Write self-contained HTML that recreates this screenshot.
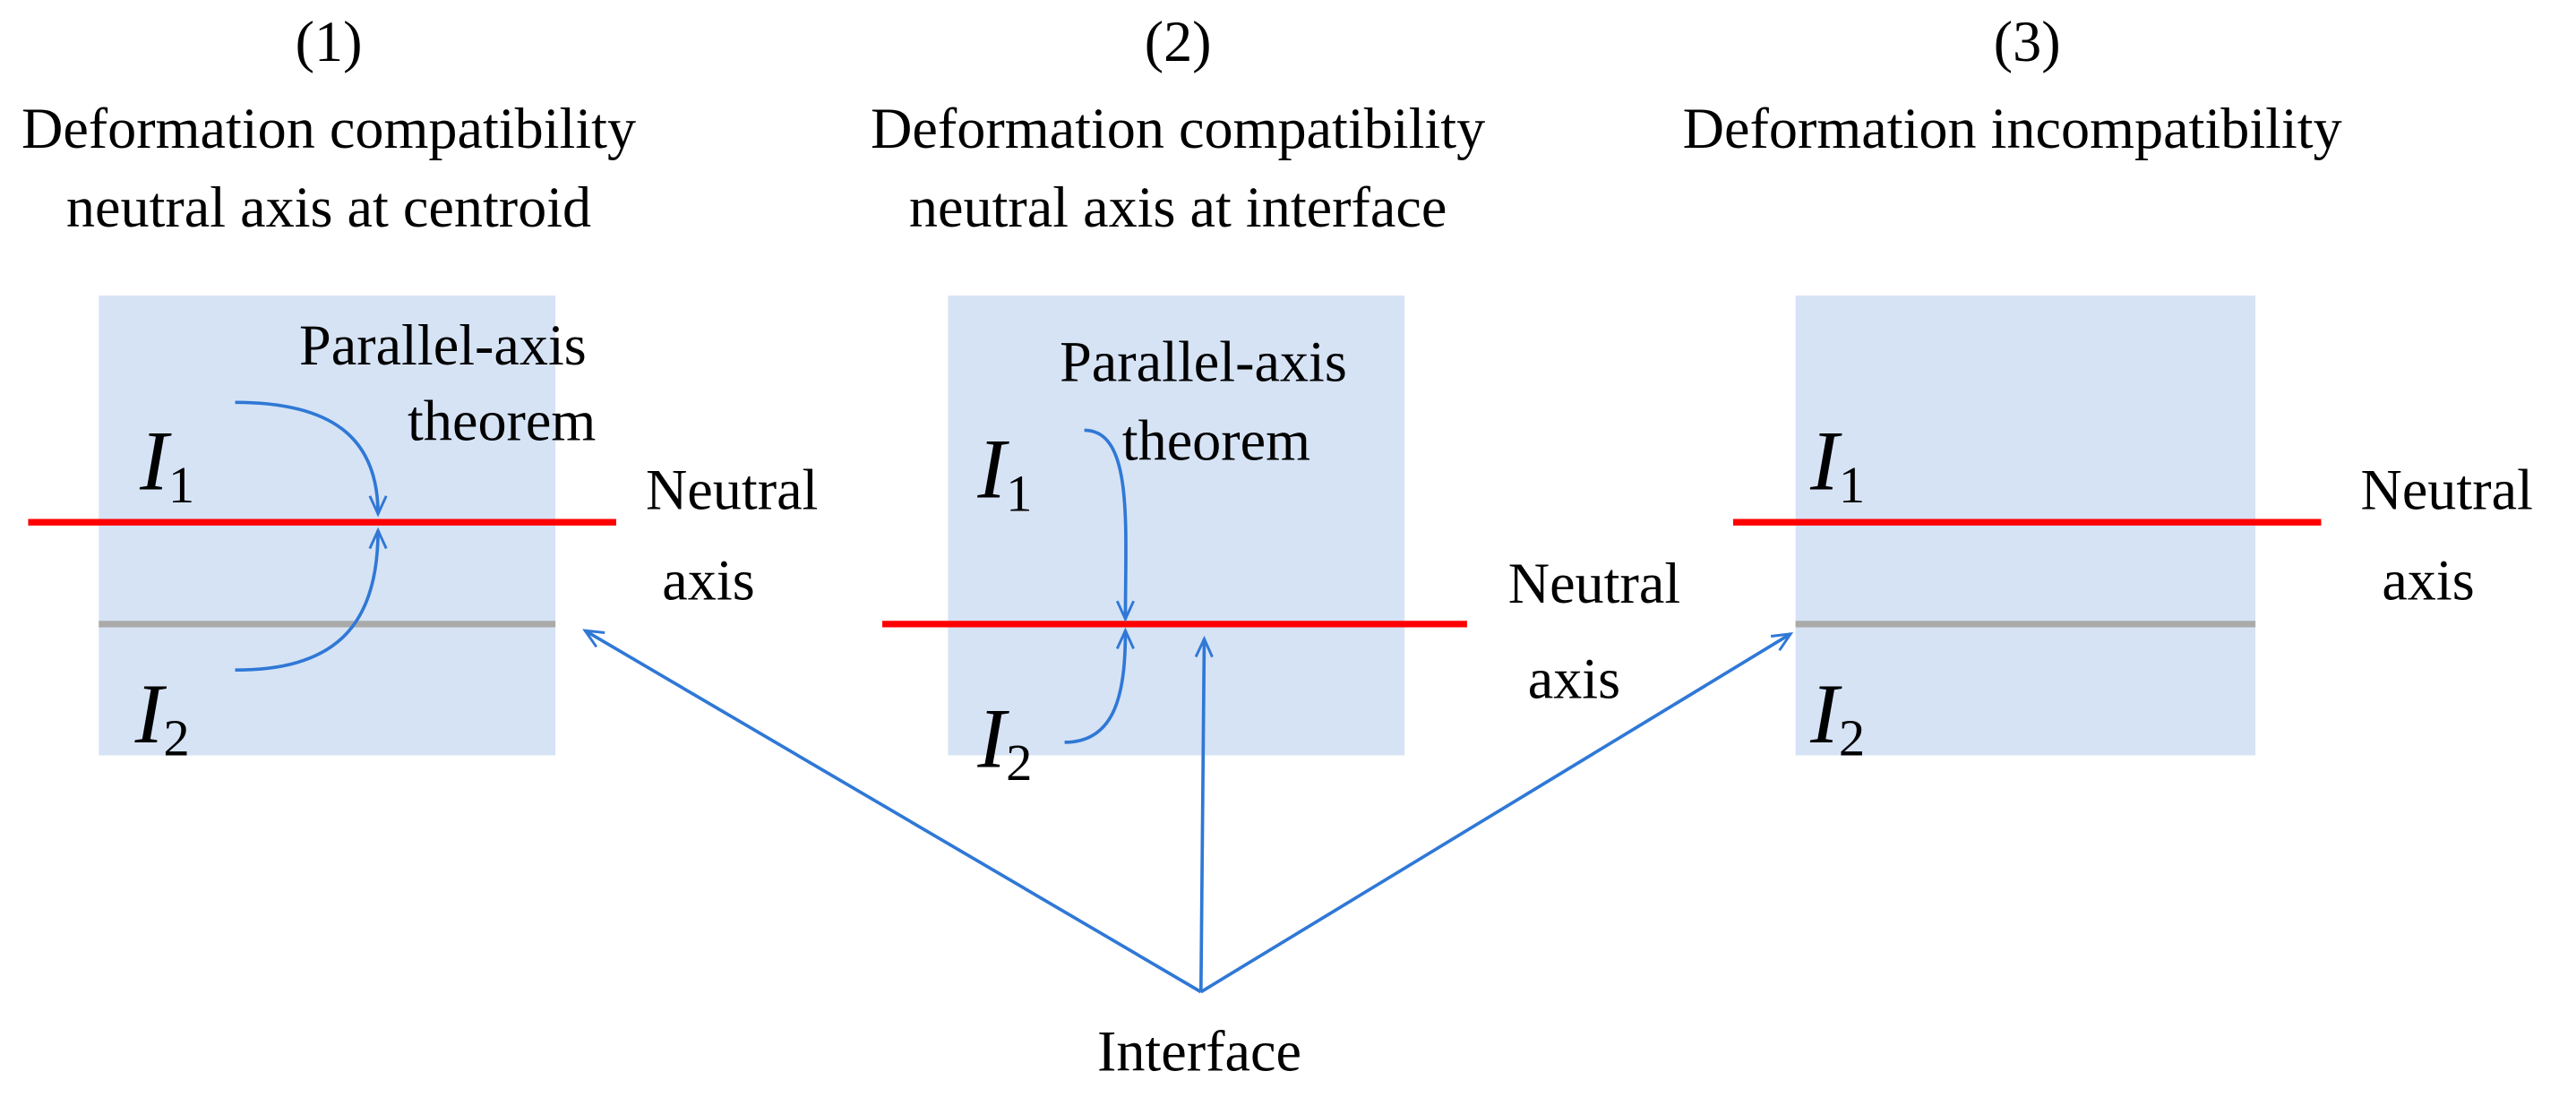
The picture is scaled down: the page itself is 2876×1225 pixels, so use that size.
<!DOCTYPE html>
<html><head><meta charset="utf-8"><style>
html,body{margin:0;padding:0;background:#fff}
svg{display:block}
</style></head><body>
<svg width="2876" height="1225" viewBox="0 0 1568 668" xmlns="http://www.w3.org/2000/svg" font-family="'Liberation Serif', 'Times New Roman', 'DejaVu Serif', serif">
<defs>
<marker id="a" markerWidth="14" markerHeight="14" refX="12" refY="6" orient="auto" markerUnits="userSpaceOnUse">
<path d="M1,1 L12,6 L1,11" fill="none" stroke="#2f78d6" stroke-width="1.6"/>
</marker>
</defs>
<g font-size="35" text-anchor="middle" fill="#000">
<text x="200" y="37">(1)</text>
<text x="200" y="90">Deformation compatibility</text>
<text x="200" y="138">neutral axis at centroid</text>
<text x="717" y="37">(2)</text>
<text x="717" y="90">Deformation compatibility</text>
<text x="717" y="138">neutral axis at interface</text>
<text x="1234" y="37">(3)</text>
<text x="1225" y="90">Deformation incompatibility</text>
</g>
<rect x="60" y="180" width="278" height="280" fill="#d6e3f5"/>
<rect x="577" y="180" width="278" height="280" fill="#d6e3f5"/>
<rect x="1093" y="180" width="280" height="280" fill="#d6e3f5"/>
<line x1="60" y1="380" x2="338" y2="380" stroke="#aaaaaa" stroke-width="4"/>
<line x1="1093" y1="380" x2="1373" y2="380" stroke="#aaaaaa" stroke-width="4"/>
<line x1="17" y1="318" x2="375" y2="318" stroke="#ff0000" stroke-width="4"/>
<line x1="537" y1="380" x2="893" y2="380" stroke="#ff0000" stroke-width="4"/>
<line x1="1055" y1="318" x2="1413" y2="318" stroke="#ff0000" stroke-width="4"/>
<g font-size="35" fill="#000">
<text x="182" y="222">Parallel-axis</text>
<text x="248" y="268">theorem</text>
<text x="645" y="232">Parallel-axis</text>
<text x="683" y="280">theorem</text>
<text x="393" y="310">Neutral</text>
<text x="403" y="365">axis</text>
<text x="918" y="367">Neutral</text>
<text x="930" y="425">axis</text>
<text x="1437" y="310">Neutral</text>
<text x="1450" y="365">axis</text>
<text x="730" y="652" text-anchor="middle">Interface</text>
</g>
<g font-size="52" font-style="italic" fill="#000">
<text x="85" y="298">I<tspan font-size="32" font-style="normal" dy="8">1</tspan></text>
<text x="82" y="452">I<tspan font-size="32" font-style="normal" dy="8">2</tspan></text>
<text x="595" y="303">I<tspan font-size="32" font-style="normal" dy="8">1</tspan></text>
<text x="595" y="467">I<tspan font-size="32" font-style="normal" dy="8">2</tspan></text>
<text x="1102" y="298">I<tspan font-size="32" font-style="normal" dy="8">1</tspan></text>
<text x="1102" y="452">I<tspan font-size="32" font-style="normal" dy="8">2</tspan></text>
</g>
<g fill="none" stroke="#2f78d6" stroke-width="2">
<path d="M143,245 C200,245 230,265 230,313" marker-end="url(#a)"/>
<path d="M143,408 C200,408 230,385 230,323" marker-end="url(#a)"/>
<path d="M660,262 C690,262 685,320 685,377" marker-end="url(#a)"/>
<path d="M648,452 C680,452 685,420 685,384" marker-end="url(#a)"/>
<line x1="731" y1="604" x2="356" y2="384" marker-end="url(#a)"/>
<line x1="731" y1="604" x2="733" y2="389" marker-end="url(#a)"/>
<line x1="731" y1="604" x2="1090" y2="386" marker-end="url(#a)"/>
</g>
</svg>
</body></html>
